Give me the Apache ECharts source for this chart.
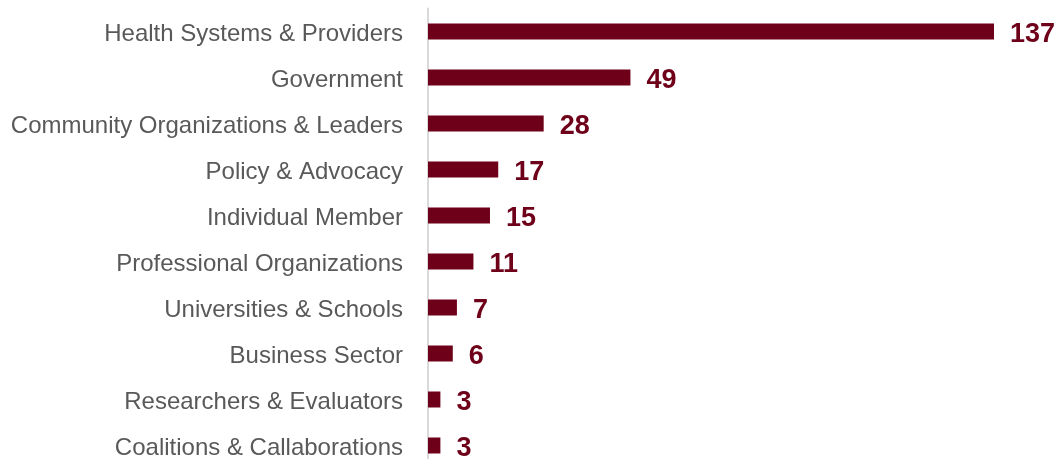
<!DOCTYPE html>
<html>
<head>
<meta charset="utf-8">
<script src="https://cdn.jsdelivr.net/npm/echarts@6/dist/echarts.min.js"></script>
<style>
html,body{margin:0;padding:0;background:#fff;}
#c{width:1061px;height:459px;}
</style>
</head>
<body>
<div id="c"></div>
<script>
const categories = [
  "Health Systems & Providers",
  "Government",
  "Community Organizations & Leaders",
  "Policy & Advocacy",
  "Individual Member",
  "Professional Organizations",
  "Universities & Schools",
  "Business Sector",
  "Researchers & Evaluators",
  "Coalitions & Callaborations"
];
const values = [137, 49, 28, 17, 15, 11, 7, 6, 3, 3];

const chart = echarts.init(document.getElementById('c'));
chart.setOption({
  animation: false,
  grid: {left: 428, right: 67, top: 8.5, height: 460, containLabel: false, outerBoundsMode: 'none'},
  xAxis: {
    type: 'value', min: 0, max: 137,
    show: false
  },
  yAxis: {
    type: 'category',
    data: categories,
    inverse: true,
    axisLine: {show: true, lineStyle: {color: '#d9d9d9', width: 2}},
    axisTick: {show: false},
    axisLabel: {
      margin: 25,
      color: '#595959',
      fontFamily: '"Liberation Sans", Arial, sans-serif',
      fontSize: 24,
      formatter: function (v) { return '{a|' + v + '}'; },
      rich: {
        a: {
          color: '#595959',
          fontFamily: '"Liberation Sans", Arial, sans-serif',
          fontSize: 24,
          padding: [6, 0, 0, 0]
        }
      }
    }
  },
  series: [{
    type: 'bar',
    data: values,
    barWidth: 16,
    itemStyle: {color: '#6e0019'},
    label: {
      show: true,
      position: 'right',
      distance: 16,
      offset: [0, 3],
      color: '#6e0019',
      fontWeight: 'bold',
      fontFamily: '"Liberation Sans", Arial, sans-serif',
      fontSize: 27
    }
  }]
});
</script>
</body>
</html>
